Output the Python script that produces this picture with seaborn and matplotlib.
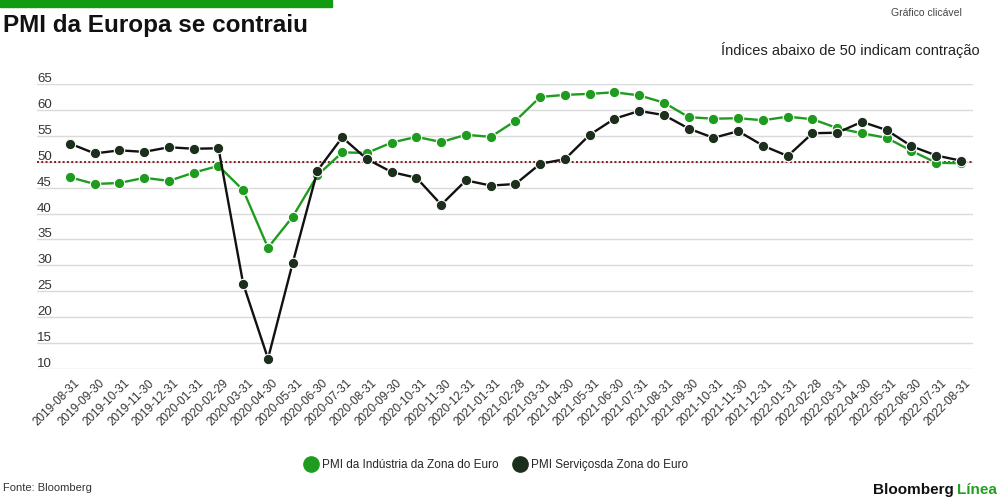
import numpy as np
import pandas as pd
import seaborn as sns
import matplotlib.pyplot as plt
import matplotlib.transforms as mtransforms
from matplotlib.lines import Line2D
from matplotlib.patches import Rectangle

dates = ['2019-08-31', '2019-09-30', '2019-10-31', '2019-11-30', '2019-12-31',
         '2020-01-31', '2020-02-29', '2020-03-31', '2020-04-30', '2020-05-31',
         '2020-06-30', '2020-07-31', '2020-08-31', '2020-09-30', '2020-10-31',
         '2020-11-30', '2020-12-31', '2021-01-31', '2021-02-28', '2021-03-31',
         '2021-04-30', '2021-05-31', '2021-06-30', '2021-07-31', '2021-08-31',
         '2021-09-30', '2021-10-31', '2021-11-30', '2021-12-31', '2022-01-31',
         '2022-02-28', '2022-03-31', '2022-04-30', '2022-05-31', '2022-06-30',
         '2022-07-31', '2022-08-31']

industria = [47.0, 45.7, 45.9, 46.9, 46.3, 47.9, 49.2, 44.5, 33.4, 39.4,
             47.4, 51.8, 51.7, 53.7, 54.8, 53.8, 55.2, 54.8, 57.9, 62.5,
             62.9, 63.1, 63.4, 62.8, 61.4, 58.6, 58.3, 58.4, 58.0, 58.7,
             58.2, 56.5, 55.5, 54.6, 52.1, 49.8, 49.7]

servicos = [53.5, 51.6, 52.2, 51.9, 52.8, 52.5, 52.6, 26.4, 12.0, 30.5,
            48.3, 54.7, 50.5, 48.0, 46.9, 41.7, 46.4, 45.4, 45.7, 49.6,
            50.5, 55.2, 58.3, 59.8, 59.0, 56.4, 54.6, 55.9, 53.1, 51.1,
            55.5, 55.6, 57.7, 56.1, 53.0, 51.2, 50.2]

y_ticks = list(range(10, 70, 5))
label_ind = 'PMI da Indústria da Zona do Euro'
label_serv = 'PMI Serviçosda Zona do Euro'

verde = '#1f9c1f'
escuro = '#1c2e1c'

sns.set_theme(style='white')
plt.rcParams['font.family'] = ['Liberation Sans', 'DejaVu Sans']

pos = np.arange(len(dates))
df = pd.DataFrame({'pos': pos, 'industria': industria, 'servicos': servicos})

fig = plt.figure(figsize=(10, 5), dpi=100)
ax = fig.add_axes([0.037, 0.262, 0.936, 0.570])

ax.axhline(50, color='#8b1c1c', linestyle=(0, (1, 1.2)), linewidth=1.4, zorder=1)

sns.lineplot(data=df, x='pos', y='industria', color=verde, marker='o',
             markersize=7.5, markeredgecolor='white', markeredgewidth=0.8,
             linewidth=1.7, ax=ax, zorder=3)
sns.lineplot(data=df, x='pos', y='servicos', color='#111111', marker='o',
             markerfacecolor=escuro, markersize=7.5, markeredgecolor='white',
             markeredgewidth=0.8, linewidth=1.7, ax=ax, zorder=4)

ax.set_xlim(-1.333, 36.485)
ax.set_ylim(10, 65)
ax.set_yticks(y_ticks)
ax.set_yticklabels([])
ax.grid(axis='y', color='#dadada', linewidth=1)
ax.grid(axis='x', visible=False)
ax.set_axisbelow(True)
ax.tick_params(axis='both', length=0)
ax.tick_params(axis='x', pad=6)
ax.set_xlabel('')
ax.set_ylabel('')
sns.despine(ax=ax, left=True, bottom=True)

ylab_tr = ax.get_yaxis_transform() + mtransforms.ScaledTranslation(0, 2 / 100, fig.dpi_scale_trans)
for v in y_ticks:
    ax.text(0, v, str(v), transform=ylab_tr, ha='left', va='baseline',
            fontsize=9.5, color='#333333')

ax.set_xticks(pos)
ax.set_xticklabels(dates, rotation=45, ha='right', va='top', rotation_mode='anchor',
                   fontsize=8.5, color='#333333')
shift = mtransforms.ScaledTranslation(4 / 100, 0, fig.dpi_scale_trans)
for lbl in ax.get_xticklabels():
    lbl.set_transform(lbl.get_transform() + shift)

# cabecalho
fig.patches.append(Rectangle((0, 1 - 7 / 500), 0.332, 7 / 500, transform=fig.transFigure,
                             color='#129a12', zorder=5))
fig.text(0.003, 1 - 32 / 500, 'PMI da Europa se contraiu', fontsize=17.5,
         fontweight='bold', color='#111111', va='baseline', ha='left')
fig.text(0.962, 1 - 13.5 / 500, 'Gráfico clicável', fontsize=7.5, color='#444444',
         ha='right', va='center')
fig.text(0.980, 1 - 50 / 500, 'Índices abaixo de 50 indicam contração', fontsize=10.5,
         color='#222222', ha='right', va='center')

# legenda
handles = [Line2D([], [], marker='o', linestyle='none', markersize=11,
                  markerfacecolor=verde, markeredgecolor=verde),
           Line2D([], [], marker='o', linestyle='none', markersize=11,
                  markerfacecolor=escuro, markeredgecolor=escuro)]
fig.legend(handles, [label_ind, label_serv], loc='center', ncol=2,
           bbox_to_anchor=(0.496, 1 - 465 / 500), frameon=False, fontsize=8.5,
           handletextpad=0.3, columnspacing=1.2, handlelength=1.2)

# rodape
fig.text(0.003, 1 - 488 / 500, 'Fonte: Bloomberg', fontsize=8, color='#333333',
         ha='left', va='center')
t1 = fig.text(0.997, 1 - 490 / 500, 'Línea', fontsize=11, fontweight='bold',
              color='#22a022', ha='right', va='center')
fig.canvas.draw()
bb = t1.get_window_extent()
fig.text((bb.x0 - 3) / fig.bbox.width, 1 - 490 / 500, 'Bloomberg', fontsize=11,
         fontweight='bold', color='#111111', ha='right', va='center')

fig.savefig('out.png', dpi=100)
